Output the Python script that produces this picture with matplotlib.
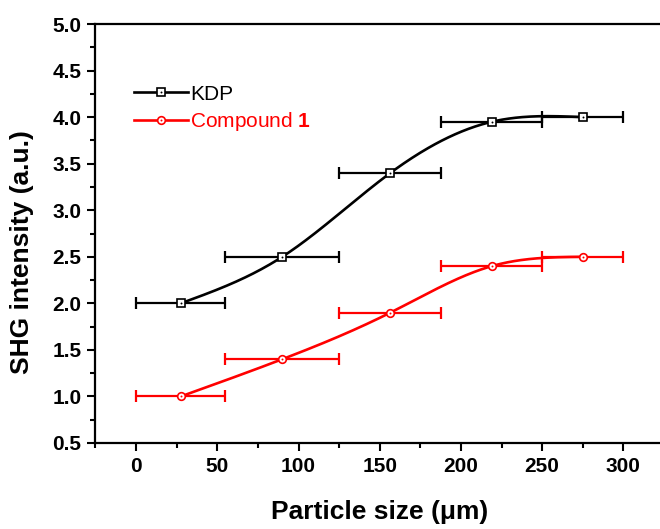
import numpy as np
import matplotlib
matplotlib.use("Agg")
import matplotlib.pyplot as plt
from matplotlib.lines import Line2D
from matplotlib.legend_handler import HandlerTuple

plt.rcParams['font.family'] = ['Liberation Sans', 'DejaVu Sans']
plt.rcParams['mathtext.fontset'] = 'custom'
plt.rcParams['mathtext.rm'] = 'Liberation Sans'
plt.rcParams['mathtext.bf'] = 'Liberation Sans:bold'

# Particle size bins (µm): centre and half-width
size_center = [27.5, 90, 156.5, 219, 275]
size_halfwidth = [27.5, 35, 31.5, 31, 25]

kdp_intensity = [2.0, 2.5, 3.4, 3.95, 4.0]
compound_intensity = [1.0, 1.4, 1.9, 2.4, 2.5]

x_ticks = [0, 50, 100, 150, 200, 250, 300]
y_ticks = [0.5, 1.0, 1.5, 2.0, 2.5, 3.0, 3.5, 4.0, 4.5, 5.0]


def natural_spline(xs, ys, num=300):
    """Natural cubic spline passing through every data point."""
    x = np.asarray(xs, float)
    y = np.asarray(ys, float)
    n = len(x)
    h = np.diff(x)
    s = np.diff(y) / h
    A = np.zeros((n, n))
    r = np.zeros(n)
    A[0, 0] = A[-1, -1] = 1.0
    for i in range(1, n - 1):
        A[i, i - 1] = h[i - 1]
        A[i, i] = 2 * (h[i - 1] + h[i])
        A[i, i + 1] = h[i]
        r[i] = 6 * (s[i] - s[i - 1])
    M = np.linalg.solve(A, r)
    xx = np.linspace(x[0], x[-1], num)
    idx = np.clip(np.searchsorted(x, xx) - 1, 0, n - 2)
    x0, x1 = x[idx], x[idx + 1]
    hh = h[idx]
    a = (x1 - xx) / hh
    b = (xx - x0) / hh
    yy = (a * y[idx] + b * y[idx + 1]
          + ((a ** 3 - a) * M[idx] + (b ** 3 - b) * M[idx + 1]) * hh ** 2 / 6)
    return xx, yy


fig = plt.figure(figsize=(6.6, 5.29), dpi=100)
ax = fig.add_axes([95.5 / 660, 86 / 529, 568.5 / 660, 419 / 529])

series = [
    (kdp_intensity, 'black', 's', 'KDP'),
    (compound_intensity, '#ff0000', 'o', 'Compound $\\mathbf{1}$'),
]

handles = []
for vals, color, mk, label in series:
    cx, cy = natural_spline(size_center, vals)
    ax.plot(cx, cy, color=color, lw=1.9, zorder=2)
    ax.errorbar(size_center, vals, xerr=size_halfwidth, fmt='none',
                ecolor=color, elinewidth=1.6, capsize=4, capthick=1.6, zorder=3)
    ax.plot(size_center, vals, ls='none', marker=mk, ms=5.5, mfc='white',
            mec=color, mew=1.2, zorder=4)
    ax.plot(size_center, vals, ls='none', marker='o', ms=1.4, mfc=color,
            mec=color, mew=0, zorder=5)
    h_line = Line2D([], [], color=color, lw=1.9, marker=mk, ms=5.5,
                    mfc='white', mec=color, mew=1.2)
    h_dot = Line2D([], [], ls='none', marker='o', ms=1.4, mfc=color,
                   mec=color, mew=0)
    handles.append(((h_line, h_dot), label))

leg = ax.legend([h for h, _ in handles], [l for _, l in handles],
                handler_map={tuple: HandlerTuple(ndivide=1, pad=0)},
                loc='upper left', bbox_to_anchor=(0.053, 0.875),
                frameon=False, fontsize=15, handlelength=2.6,
                handletextpad=0.1, labelspacing=0.3, borderaxespad=0)
for txt, (_, color, _, _) in zip(leg.get_texts(), series):
    txt.set_color(color)

ax.set_xlim(-25, 325)
ax.set_ylim(0.5, 5.0)
ax.set_xticks(x_ticks)
ax.set_yticks(y_ticks)
ax.set_yticklabels([f'{v:.1f}' for v in y_ticks])
ax.set_xticks(np.arange(-25, 326, 25), minor=True)
ax.set_yticks(np.arange(0.5, 5.01, 0.25), minor=True)

ax.tick_params(which='major', direction='out', length=6, width=1.5,
               labelsize=15, pad=4)
ax.tick_params(which='minor', direction='out', length=3.5, width=1.5)
for lab in ax.get_xticklabels() + ax.get_yticklabels():
    lab.set_fontweight('bold')

ax.spines['right'].set_visible(False)
for side in ('left', 'bottom', 'top'):
    ax.spines[side].set_linewidth(1.6)

ax.set_xlabel('Particle size (μm)', fontsize=19, fontweight='bold')
ax.set_ylabel('SHG intensity (a.u.)', fontsize=19, fontweight='bold')
ax.xaxis.set_label_coords((380 - 95.5) / 568.5, -(500 - 443) / 419)
ax.yaxis.set_label_coords(-(95.5 - 10) / 568.5, (443 - 252) / 419)
ax.xaxis.label.set_va('top')
ax.yaxis.label.set_va('top')

fig.savefig('out.png', dpi=100)
